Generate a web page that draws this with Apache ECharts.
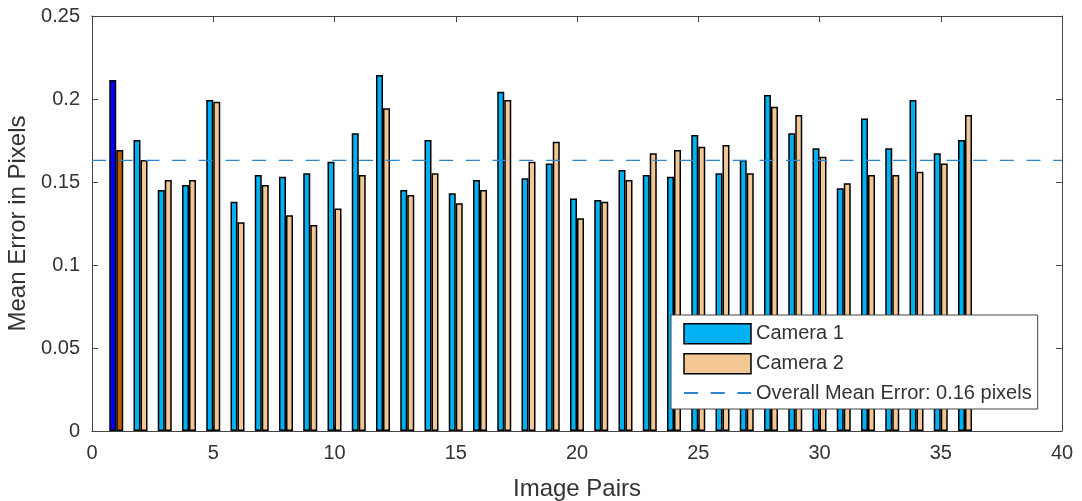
<!DOCTYPE html>
<html>
<head>
<meta charset="utf-8">
<script src="https://cdn.jsdelivr.net/npm/echarts@6/dist/echarts.min.js"></script>
<style>
  html, body { margin: 0; padding: 0; background: #fff; }
  #chart { width: 1082px; height: 501px; }
</style>
</head>
<body>
<div id="chart"></div>
<script>
// Mean reprojection error per image pair, one value per camera
const pairs = [1,2,3,4,5,6,7,8,9,10,11,12,13,14,15,16,17,18,19,20,21,22,23,24,25,26,27,28,29,30,31,32,33,34,35,36];
const camera1 = [0.2114,0.1753,0.1452,0.1482,0.1994,0.1381,0.1542,0.1532,0.1552,0.1622,
                 0.1793,0.2145,0.1452,0.1753,0.1432,0.1512,0.2044,0.1522,0.1612,0.1401,
                 0.1392,0.1572,0.1542,0.1532,0.1783,0.1552,0.1633,0.2024,0.1793,0.1703,
                 0.1462,0.1883,0.1703,0.1994,0.1673,0.1753];
const camera2 = [0.1693,0.1633,0.1512,0.1512,0.1984,0.1257,0.1482,0.1299,0.1241,0.1341,
                 0.1542,0.1944,0.1422,0.1552,0.1372,0.1452,0.1994,0.1622,0.1743,0.1281,
                 0.1381,0.1512,0.1673,0.1693,0.1713,0.1723,0.1552,0.1954,0.1904,0.1652,
                 0.1492,0.1542,0.1542,0.1562,0.1612,0.1904];
const overallMean = 0.163;
const highlighted = 1; // the selected pair is drawn in darker colours
const xTicks = { min: 0, max: 40, step: 5 };
const yTicks = { min: 0, max: 0.25, step: 0.05 };

const names = ['Camera 1', 'Camera 2', 'Overall Mean Error: 0.16 pixels'];
const colors = { cam1: '#00b2f4', cam2: '#f2c794', cam1Sel: '#0000ff', cam2Sel: '#b85c00', mean: '#2a86d3', axis: '#333333', frame: '#444444' };

function barData(values, selColor) {
  return pairs.map((p, i) => {
    const d = { value: [p, values[i]] };
    if (p === highlighted) d.itemStyle = { color: selColor };
    return d;
  });
}

const font = 'Liberation Sans, Arial, Helvetica, sans-serif';
function axis(extra) {
  return Object.assign({
    type: 'value',
    axisLine: { show: true, onZero: false, lineStyle: { color: colors.frame, width: 1 } },
    axisTick: { show: true, inside: true, length: 6, lineStyle: { color: colors.frame } },
    splitLine: { show: false },
    axisLabel: { color: colors.axis, fontFamily: font, fontSize: 20, margin: 12 }
  }, extra);
}

const chart = echarts.init(document.getElementById('chart'), null, { renderer: 'canvas' });
chart.setOption({
  animation: false,
  backgroundColor: '#fff',
  grid: { left: 92, right: 20, top: 16, bottom: 70, containLabel: false, outerBoundsMode: 'none' },
  xAxis: [
    axis({
      position: 'bottom', min: xTicks.min, max: xTicks.max, interval: xTicks.step,
      name: 'Image Pairs', nameLocation: 'middle', nameGap: 46,
      nameTextStyle: { color: colors.axis, fontFamily: font, fontSize: 24 }
    }),
    axis({
      position: 'top', min: xTicks.min, max: xTicks.max, interval: xTicks.step,
      axisLabel: { show: false }
    })
  ],
  yAxis: [
    axis({
      position: 'left', min: yTicks.min, max: yTicks.max, interval: yTicks.step,
      name: 'Mean Error in Pixels', nameLocation: 'middle', nameGap: 61,
      nameTextStyle: { color: colors.axis, fontFamily: font, fontSize: 24 }
    }),
    axis({
      position: 'right', min: yTicks.min, max: yTicks.max, interval: yTicks.step,
      axisLabel: { show: false }
    })
  ],
  legend: {
    orient: 'vertical',
    left: 671, top: 315,
    padding: [8, 6, 6, 12],
    itemGap: 8.5,
    itemWidth: 67, itemHeight: 20,
    backgroundColor: '#fff',
    borderColor: colors.frame, borderWidth: 1,
    textStyle: { color: colors.axis, fontFamily: font, fontSize: 20, lineHeight: 20 },
    data: [
      { name: names[0], icon: 'rect', itemStyle: { color: colors.cam1, borderColor: '#000', borderWidth: 1.5 } },
      { name: names[1], icon: 'rect', itemStyle: { color: colors.cam2, borderColor: '#000', borderWidth: 1.5 } },
      { name: names[2], itemStyle: { opacity: 0 } }
    ]
  },
  series: [
    {
      name: names[0], type: 'bar', barWidth: 7, barGap: '0%',
      itemStyle: { color: colors.cam1, borderColor: '#000', borderWidth: 1.5 },
      data: barData(camera1, colors.cam1Sel)
    },
    {
      name: names[1], type: 'bar', barWidth: 7, barGap: '0%',
      itemStyle: { color: colors.cam2, borderColor: '#000', borderWidth: 1.5 },
      data: barData(camera2, colors.cam2Sel)
    },
    {
      name: names[2], type: 'line', symbol: 'none', z: 5,
      lineStyle: { color: colors.mean, width: 1.3, type: [14, 12.7] },
      itemStyle: { color: colors.mean },
      data: [[xTicks.min, overallMean], [xTicks.max, overallMean]]
    }
  ]
});
</script>
</body>
</html>
